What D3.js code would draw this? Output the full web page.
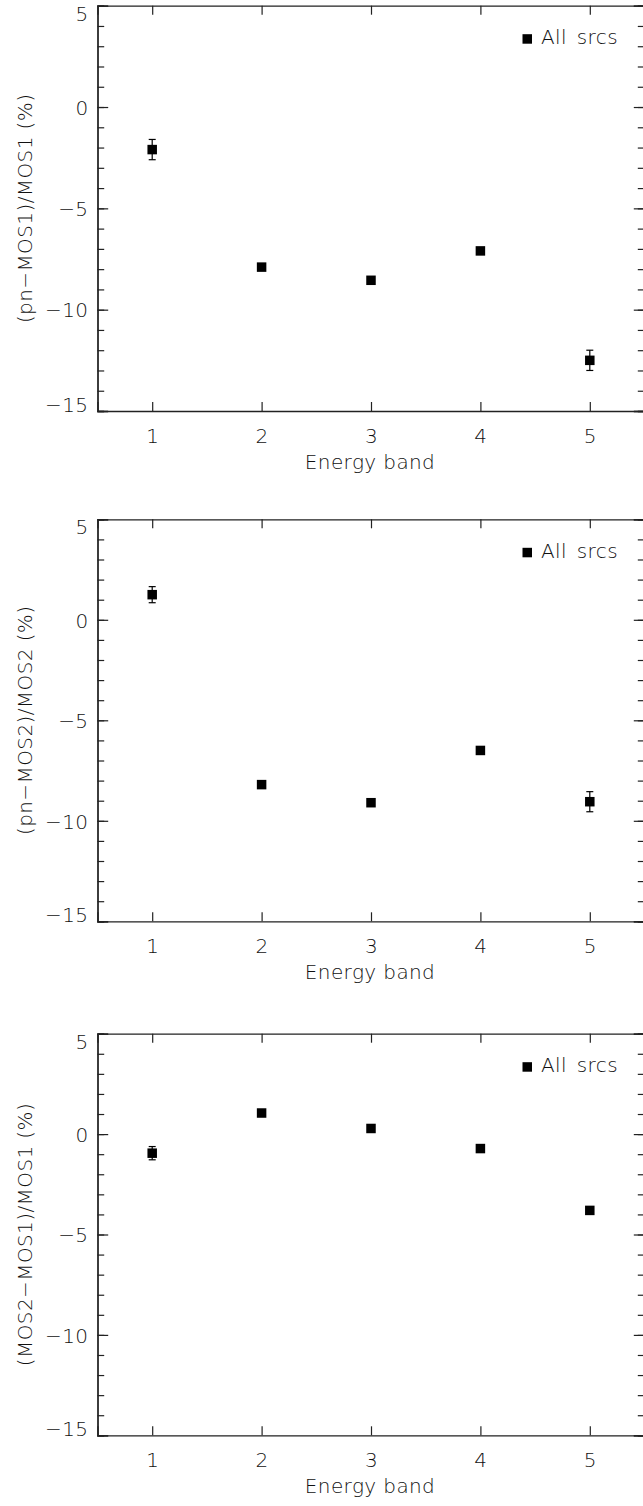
<!DOCTYPE html>
<meta charset="utf-8">
<style>
  body { margin: 0; background: #fff; }
  text { font-family: "DejaVu Sans", sans-serif; font-weight: 200; fill: #111; letter-spacing: 0.4px; }
</style>

<!-- Load d3.js -->
<script src="https://d3js.org/d3.v7.min.js"></script>

<svg width="643" height="1506"></svg>

<script>
// energy bands on the x axis
var bands = [1, 2, 3, 4, 5];

// one panel per detector pair
var panelTitles = ["(pn\u2212MOS1)/MOS1 (%)", "(pn\u2212MOS2)/MOS2 (%)", "(MOS2\u2212MOS1)/MOS1 (%)"];

// percentage differences, per band
var pnMos1 = [-2.1, -7.9, -8.55, -7.1, -12.5];
var pnMos2 = [1.25, -8.2, -9.1, -6.5, -9.05];
var mos2Mos1 = [-0.95, 1.05, 0.28, -0.72, -3.8];

// 1 sigma errors
var pnMos1Err = [0.5, 0.15, 0.15, 0.15, 0.5];
var pnMos2Err = [0.4, 0.15, 0.15, 0.15, 0.5];
var mos2Mos1Err = [0.33, 0.15, 0.15, 0.15, 0.15];

var yTicks = [5, 0, -5, -10, -15];
var legendLabel = "All srcs";

var series = [
  { title: panelTitles[0], values: pnMos1, errs: pnMos1Err },
  { title: panelTitles[1], values: pnMos2, errs: pnMos2Err },
  { title: panelTitles[2], values: mos2Mos1, errs: mos2Mos1Err }
];

var svg = d3.select("svg");
svg.append("rect").attr("width", 643).attr("height", 1506).attr("fill", "#fff");

// plot frames (top / bottom of each panel)
var tops = [5.7, 519.3, 1033.7],
    bottoms = [411, 921.3, 1435.3],
    left = 97.5,
    right = 644.5;

var x = d3.scaleLinear().domain([0.5, 5.5]).range([left, right]);

var axisColor = "#222";
var fs = 20;

series.forEach(function (s, i) {
  var y = d3.scaleLinear().domain([-15, 5]).range([bottoms[i], tops[i]]);
  var g = svg.append("g");

  // left axis, inward ticks
  g.append("g")
    .attr("transform", "translate(" + left + ",0)")
    .call(d3.axisLeft(y).tickValues(d3.range(-15, 6, 1)).tickSize(-6.7).tickFormat(""))
    .call(styleAxis);
  var yl = g.append("g")
    .attr("transform", "translate(" + left + ",0)")
    .call(d3.axisLeft(y).tickValues(yTicks).tickSize(-10.7).tickPadding(9).tickFormat(d3.format("d")))
    .call(styleAxis);
  // end labels sit inside the frame, like the original
  yl.selectAll(".tick text")
    .attr("dy", function (d) { return d === 5 ? "0.72em" : (d === -15 ? "0.0em" : "0.36em"); });

  // right axis
  g.append("g")
    .attr("transform", "translate(" + right + ",0)")
    .call(d3.axisRight(y).tickValues(d3.range(-15, 6, 1)).tickSize(-6.7).tickFormat(""))
    .call(styleAxis);
  g.append("g")
    .attr("transform", "translate(" + right + ",0)")
    .call(d3.axisRight(y).tickValues(yTicks).tickSize(-10.7).tickFormat(""))
    .call(styleAxis);

  // bottom axis
  g.append("g")
    .attr("transform", "translate(0," + bottoms[i] + ")")
    .call(d3.axisBottom(x).tickValues(bands).tickSize(-9).tickPadding(18).tickFormat(d3.format("d")))
    .call(styleAxis);

  // top axis
  g.append("g")
    .attr("transform", "translate(0," + tops[i] + ")")
    .call(d3.axisTop(x).tickValues(bands).tickSize(-9).tickFormat(""))
    .call(styleAxis);

  // axis titles
  g.append("text")
    .attr("x", (left + right) / 2 - 1)
    .attr("y", bottoms[i] + 58)
    .attr("text-anchor", "middle")
    .attr("font-size", fs)
    .text("Energy band");

  g.append("text")
    .attr("transform", "translate(32," + ((tops[i] + bottoms[i]) / 2) + ") rotate(-90)")
    .attr("text-anchor", "middle")
    .attr("font-size", fs)
    .text(s.title);

  var pts = bands.map(function (b, j) { return { band: b, v: s.values[j], e: s.errs[j] }; });

  // error bars
  var eb = g.append("g").selectAll("g")
    .data(pts)
    .enter().append("g")
    .attr("stroke", "#000")
    .attr("stroke-width", 1.2);
  eb.append("line")
    .attr("x1", function (d) { return x(d.band); })
    .attr("x2", function (d) { return x(d.band); })
    .attr("y1", function (d) { return y(d.v + d.e); })
    .attr("y2", function (d) { return y(d.v - d.e); });
  eb.append("line")
    .attr("x1", function (d) { return x(d.band) - 3.5; })
    .attr("x2", function (d) { return x(d.band) + 3.5; })
    .attr("y1", function (d) { return y(d.v + d.e); })
    .attr("y2", function (d) { return y(d.v + d.e); });
  eb.append("line")
    .attr("x1", function (d) { return x(d.band) - 3.5; })
    .attr("x2", function (d) { return x(d.band) + 3.5; })
    .attr("y1", function (d) { return y(d.v - d.e); })
    .attr("y2", function (d) { return y(d.v - d.e); });

  // square markers
  var ms = 9.5;
  g.append("g").selectAll("rect")
    .data(pts)
    .enter().append("rect")
    .attr("x", function (d) { return x(d.band) - ms / 2; })
    .attr("y", function (d) { return y(d.v) - ms / 2; })
    .attr("width", ms)
    .attr("height", ms)
    .attr("fill", "#000");

  // legend
  g.append("rect")
    .attr("x", 522.5)
    .attr("y", tops[i] + 28.5)
    .attr("width", 9.5)
    .attr("height", 9.5)
    .attr("fill", "#000");
  g.append("text")
    .attr("x", 541)
    .attr("y", tops[i] + 38.5)
    .attr("font-size", fs)
    .attr("word-spacing", 3)
    .text(legendLabel);
});

function styleAxis(sel) {
  sel.select(".domain").attr("stroke", axisColor).attr("stroke-width", 1.3);
  sel.selectAll(".tick line").attr("stroke", axisColor).attr("stroke-width", 1.2);
  sel.selectAll(".tick text").attr("font-size", fs).attr("fill", "#111")
    .attr("font-family", "DejaVu Sans, sans-serif").attr("font-weight", 200);
}
</script>
